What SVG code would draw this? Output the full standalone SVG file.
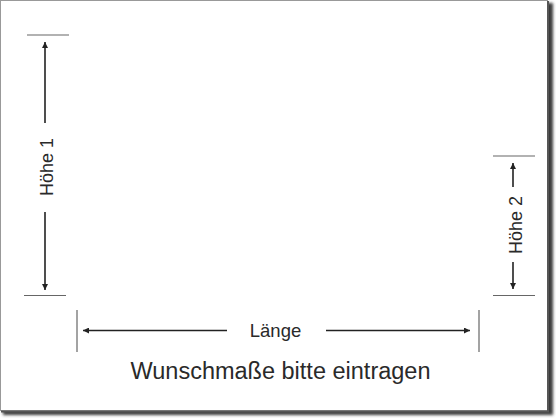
<svg xmlns="http://www.w3.org/2000/svg" width="560" height="420" viewBox="0 0 560 420">
  <style>
    .lbl { font-family: "Liberation Sans", Arial, sans-serif; fill: #2a2a2a; }
    .tick { stroke: #666; stroke-width: 1.2; fill: none; }
    .arr { stroke: #222; stroke-width: 1.6; fill: none; }
  </style>
  <defs>
    <marker id="ah" viewBox="0 0 10 10" refX="10" refY="5" markerWidth="8" markerHeight="6" markerUnits="userSpaceOnUse" orient="auto">
      <path d="M0,0 L10,5 L0,10 Z" fill="#222"/>
    </marker>
    <filter id="sh" x="-5%" y="-5%" width="110%" height="110%">
      <feGaussianBlur stdDeviation="1.8"/>
    </filter>
  </defs>
  <rect width="560" height="420" fill="#fff"/>
  <g id="frame">
    <rect x="3" y="3" width="550" height="412" fill="#3a3a3a" filter="url(#sh)"/>
    <rect x="0.5" y="0.5" width="547" height="410" fill="#fff" stroke="#999" stroke-width="1"/>
    <path d="M548,1 V411.5 H1" fill="none" stroke="#555" stroke-width="2"/>
  </g>
  <g id="connectors">
    <line class="arr" x1="45" y1="123" x2="45" y2="42" marker-end="url(#ah)"/>
    <line class="arr" x1="45" y1="212" x2="45" y2="290" marker-end="url(#ah)"/>
    <line class="arr" x1="513" y1="187" x2="513" y2="163" marker-end="url(#ah)"/>
    <line class="arr" x1="513" y1="262" x2="513" y2="289" marker-end="url(#ah)"/>
    <line class="arr" x1="227" y1="330.5" x2="83" y2="330.5" marker-end="url(#ah)"/>
    <line class="arr" x1="326" y1="330.5" x2="470" y2="330.5" marker-end="url(#ah)"/>
  </g>
  <g id="ticks">
    <line class="tick" x1="27" y1="35" x2="69" y2="35"/>
    <line class="tick" x1="24" y1="295.5" x2="66" y2="295.5"/>
    <line class="tick" x1="493" y1="156" x2="535" y2="156"/>
    <line class="tick" x1="493" y1="295.5" x2="535" y2="295.5"/>
    <line class="tick" x1="77" y1="310" x2="77" y2="352"/>
    <line class="tick" x1="479" y1="310" x2="479" y2="352"/>
  </g>
  <g id="hoehe1">
    <text class="lbl" font-size="18" text-anchor="middle" transform="translate(52.5,167) rotate(-90)">Höhe 1</text>
  </g>
  <g id="hoehe2">
    <text class="lbl" font-size="18" text-anchor="middle" transform="translate(521.5,225) rotate(-90)">Höhe 2</text>
  </g>
  <g id="laenge">
    <text class="lbl" font-size="18.5" text-anchor="middle" x="275.5" y="337">Länge</text>
  </g>
  <g id="caption">
    <text class="lbl" font-size="23.5" text-anchor="middle" x="280.5" y="379">Wunschmaße bitte eintragen</text>
  </g>
</svg>
